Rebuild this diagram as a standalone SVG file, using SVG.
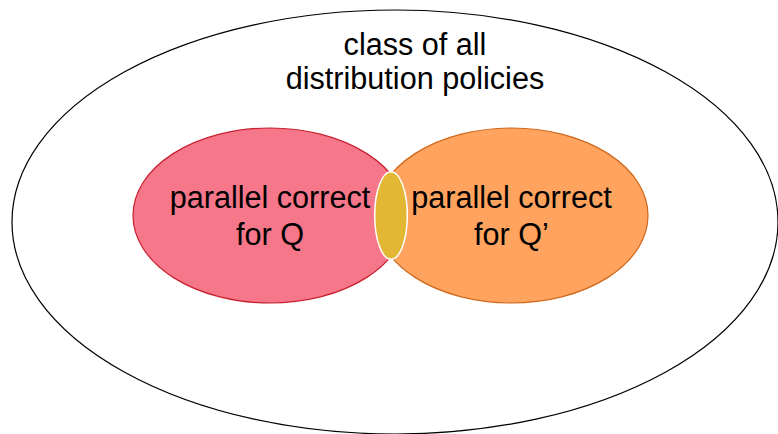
<svg xmlns="http://www.w3.org/2000/svg" width="778" height="434" viewBox="0 0 778 434">
  <style>
    .label { font-family: "Liberation Sans", Arial, Helvetica, sans-serif; font-size: 30.6px; fill: #000; text-anchor: middle; }
    .outer { fill: #fff; stroke: #000; stroke-width: 1.2; }
    .setQ { fill: #F67789; stroke: #C8202F; stroke-width: 1.2; }
    .setQp { fill: #FFA35E; stroke: #D0671A; stroke-width: 1.2; }
    .both { fill: #E2B734; stroke: #fff; stroke-width: 1.5; }
  </style>
  <rect width="778" height="434" fill="#fff"/>

  <!-- universe: all distribution policies -->
  <g id="all-policies">
    <ellipse class="outer" cx="395" cy="222" rx="383" ry="212"/>
    <text class="label" x="415" y="55">class of all</text>
    <text class="label" x="415" y="89">distribution policies</text>
  </g>

  <!-- policies parallel correct for Q -->
  <g id="correct-Q">
    <ellipse class="setQ" cx="270" cy="215.5" rx="137" ry="87.5"/>
  </g>

  <!-- policies parallel correct for Q' -->
  <g id="correct-Qp">
    <ellipse class="setQp" cx="511.5" cy="215.5" rx="136.5" ry="87.5"/>
  </g>

  <!-- overlap of both sets -->
  <g id="overlap">
    <ellipse class="both" cx="391" cy="215.5" rx="16.3" ry="43.8"/>
  </g>

  <g id="set-labels">
    <text class="label" x="270" y="208">parallel correct</text>
    <text class="label" x="270" y="245">for Q</text>
    <text class="label" x="511.5" y="208">parallel correct</text>
    <text class="label" x="511.5" y="245">for Q’</text>
  </g>

  <g id="connectors"/>
</svg>
